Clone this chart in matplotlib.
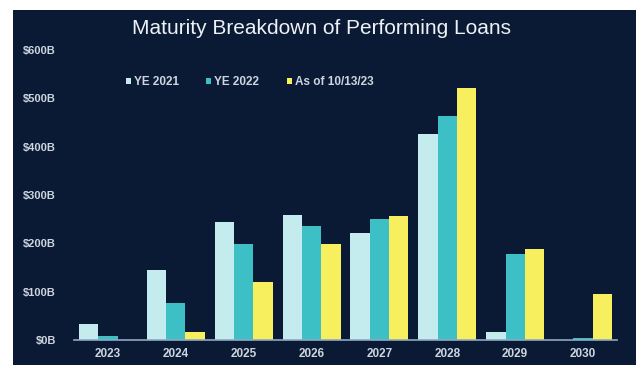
import numpy as np
import matplotlib.pyplot as plt
import matplotlib.patches as patches

years = ['2023', '2024', '2025', '2026', '2027', '2028', '2029', '2030']
ye2021 = [33, 144, 245, 258, 221, 427, 17, 0]
ye2022 = [8, 76, 198, 235, 250, 463, 178, 4]
asof = [0, 17, 119, 198, 257, 521, 188, 96]
series_names = ['YE 2021', 'YE 2022', 'As of 10/13/23']
yticks = [0, 100, 200, 300, 400, 500, 600]
ytick_labels = ['$0B', '$100B', '$200B', '$300B', '$400B', '$500B', '$600B']

BG = '#0a1a35'
TXT = '#cdd5df'
colors = ['#c4ecee', '#3cc0c6', '#f7ef5e']

fig = plt.figure(figsize=(6.36, 3.65), dpi=100, facecolor='white')
# dark panel, leaving the thin white border at top and left
fig.patches.append(patches.Rectangle((13/636, 0), 1 - 13/636, 355/365,
                                     transform=fig.transFigure, facecolor=BG,
                                     edgecolor='none', zorder=-5))

ax = fig.add_axes([74/636, 25/365, (617-74)/636, 290/365])
ax.set_facecolor('none')
ax.set_zorder(2)

x = np.arange(len(years))
w = 0.285
for i, (vals, c, name) in enumerate(zip([ye2021, ye2022, asof], colors, series_names)):
    ax.bar(x + (i - 1) * w, vals, width=w, color=c, label=name, zorder=2)

ax.set_xlim(-0.5, len(years) - 0.5)
ax.set_ylim(0, 600)
ax.set_xticks(x)
ax.set_xticklabels(years, color=TXT, fontsize=8.5, family='Liberation Sans', weight='bold')
ax.set_yticks(yticks)
ax.set_yticklabels(ytick_labels, color=TXT, fontsize=8, family='Liberation Sans', weight='bold')
ax.tick_params(axis='both', length=0)
ax.tick_params(axis='y', pad=13)
ax.tick_params(axis='x', pad=6)

for s in ['top', 'right', 'left']:
    ax.spines[s].set_visible(False)
ax.spines['bottom'].set_color('#8fa8c2')
ax.spines['bottom'].set_linewidth(1.2)

leg = ax.legend(loc='center left', bbox_to_anchor=(0.095, 0.89), ncol=3, frameon=False,
                handlelength=0.45, handleheight=0.45, handletextpad=0.25,
                columnspacing=2.3, borderaxespad=0, borderpad=0,
                prop={'family': 'Liberation Sans', 'size': 8.5, 'weight': 'bold'})
for t in leg.get_texts():
    t.set_color(TXT)

fig.text(322/636, 1 - 28/365, 'Maturity Breakdown of Performing Loans', color='#eef2f6',
         fontsize=15, family='Liberation Sans', ha='center', va='center', zorder=3)

fig.savefig('out.png', dpi=100, facecolor=fig.get_facecolor())
